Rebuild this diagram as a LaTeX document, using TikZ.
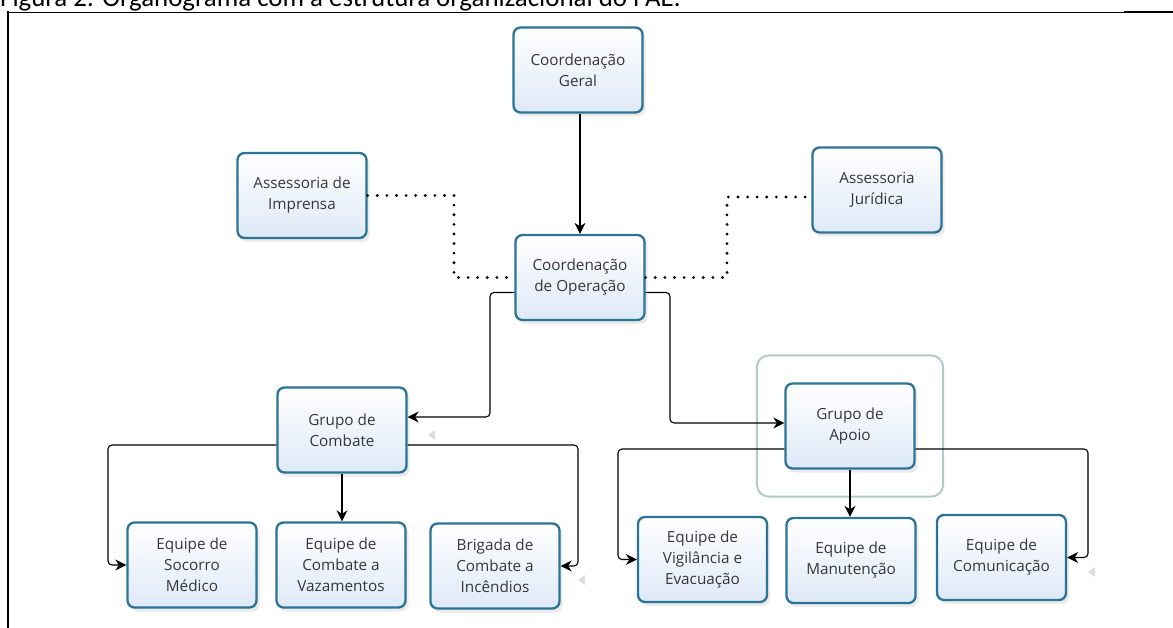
\documentclass[tikz,border=0pt]{standalone}
\usepackage{fontspec}
\setmainfont{Open Sans}
\newfontfamily\capfont{Carlito}
\usetikzlibrary{arrows.meta,shadows,fit}

\definecolor{boxedge}{RGB}{44,116,150}
\definecolor{boxfill}{RGB}{222,233,247}
\definecolor{txt}{RGB}{55,55,55}
\definecolor{grpedge}{RGB}{178,202,202}
\definecolor{ghost}{RGB}{222,222,222}

\tikzset{
  orgbox/.style={draw=boxedge, line width=2.3pt, rounded corners=7pt,
    top color=white, bottom color=boxfill,
    minimum width=129pt, minimum height=85pt, inner sep=0pt,
    align=center, text=txt, font=\fontsize{15.3}{21}\selectfont,
    drop shadow={shadow xshift=3pt, shadow yshift=-4pt, opacity=.16}},
  grpframe/.style={draw=grpedge, line width=2pt, rounded corners=12pt, inner sep=0pt},
  link/.style={line width=1.1pt, rounded corners=4pt,
    -{Stealth[length=11pt,width=11pt,inset=3.5pt]}},
  dotlink/.style={line width=3.1pt, line cap=round, dash pattern=on 0pt off 9.6pt},
}

\begin{document}
\begin{tikzpicture}[x=1pt,y=-1pt]
\useasboundingbox (0,0) rectangle (1173,628);
\clip (0,0) rectangle (1173,628);

% caption and table rules
\node[anchor=base west, inner sep=0pt, font=\capfont\fontsize{26.9}{30}\selectfont] (cap) at (0,7)
  {Figura 2: Organograma com a estrutura organizacional do PAE.};
\draw[line width=0.8pt] (8,12) -- (1124,12);
\draw[line width=2pt] (1124,12) -- (1173,12);
\draw[line width=2pt] (8,11.5) -- (8,628);

% boxes
\node[orgbox] (cg)  at (578,70)      {Coordenação\\Geral};
\node[orgbox] (imp) at (302,195.5)   {Assessoria de\\Imprensa};
\node[orgbox] (jur) at (877,190)     {Assessoria\\Jurídica};
\node[orgbox] (co)  at (580,277.5)   {Coordenação\\de Operação};
\node[orgbox] (gc)  at (342,430)     {Grupo de\\Combate};
\node[orgbox] (ga)  at (850,426)     {Grupo de\\Apoio};
\node[orgbox] (soc) at (192,565)     {Equipe de\\Socorro\\Médico};
\node[orgbox] (vaz) at (341,565)     {Equipe de\\Combate a\\Vazamentos};
\node[orgbox] (bri) at (495,566)     {Brigada de\\Combate a\\Incêndios};
\node[orgbox] (vig) at (702.5,559.5) {Equipe de\\Vigilância e\\Evacuação};
\node[orgbox] (man) at (851,560.5)   {Equipe de\\Manutenção};
\node[orgbox] (com) at (1001.5,557.5){Equipe de\\Comunicação};

% frame around the support group
\node[grpframe, fit=(ga), inner xsep=27.5pt, inner ysep=27pt] (gaframe) {};

% hierarchy links
\draw[link] (cg.south -| co.north) -- (co.north);
\draw[link] ([yshift=-15pt]co.west) -| (490,417) -- ([yshift=13pt]gc.east);
\draw[link] ([yshift=-15pt]co.east) -| (670,423) -- ([yshift=3pt]ga.west);

\draw[link] ([yshift=-15pt]gc.west) -| (108,565) -- (soc.west);
\draw[link] ([yshift=-15pt]gc.east) -| (578,566) -- (bri.east);
\draw[link] (gc.south) -- (gc.south |- vaz.north);

\draw[link] ([yshift=-23pt]ga.west) -| (618,559.5) -- (vig.west);
\draw[link] ([yshift=-23pt]ga.east) -| (1088,557.5) -- (com.east);
\draw[link] (ga.south) -- (ga.south |- man.north);

% advisory (dotted) links
\draw[dotlink] (imp.east) -| (454,277.5) -- (co.west);
\draw[dotlink] (co.east) -| (727,197) -- ([yshift=-7pt]jur.west);

% faint connection marks
\fill[ghost] (435,430) -- (428,435) -- (435,440) -- cycle;
\fill[ghost] (585,575) -- (578,580) -- (585,585) -- cycle;
\fill[ghost] (1095,567) -- (1088,572) -- (1095,577) -- cycle;
\end{tikzpicture}
\end{document}
